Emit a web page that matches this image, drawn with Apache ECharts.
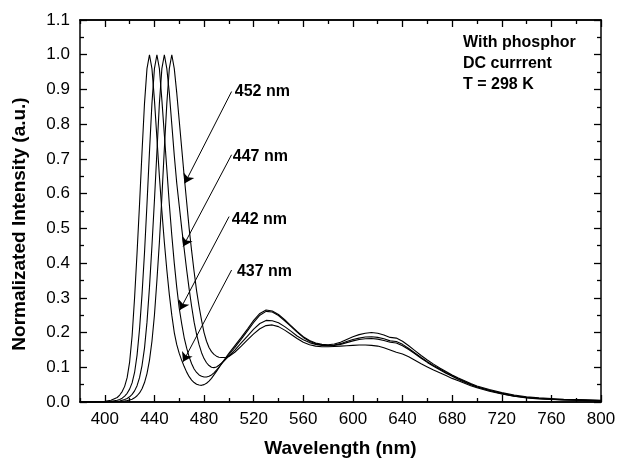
<!DOCTYPE html>
<html>
<head>
<meta charset="utf-8">
<script src="https://cdn.jsdelivr.net/npm/echarts@6/dist/echarts.min.js"></script>
<style>
  html, body { margin: 0; padding: 0; background: #fff; }
  #main { width: 627px; height: 465px; }
</style>
</head>
<body>
<div id="main"></div>
<script>
// wavelength grid (nm)
var wavelengths = [
  380, 390, 400, 405, 410,
  412, 414, 416, 418, 420, 422, 424, 426, 428, 430, 432, 434, 436, 438, 440,
  442, 444, 446, 448, 450, 452, 454, 456, 458, 460, 462, 464, 466, 468, 470,
  472, 474, 476, 478, 480, 482, 484, 486, 488, 490, 492, 494, 496, 498, 500,
  505, 510, 515, 520, 525, 530, 535, 540, 545, 550, 555, 560, 565, 570, 575,
  580, 585, 590, 595, 600, 605, 610, 615, 620, 625, 630, 635, 640, 645, 650,
  655, 660, 665, 670, 675, 680, 685, 690, 695, 700,
  710, 720, 730, 740, 750, 760, 770, 780, 790, 800
];

// normalized intensity, one array per LED
var spec437 = [
  0, 0, 0.002, 0.005, 0.013,
  0.02, 0.03, 0.045, 0.07, 0.115, 0.19, 0.30, 0.43, 0.57, 0.72, 0.86, 0.96, 1.0, 0.96, 0.87,
  0.76, 0.65, 0.55, 0.46, 0.38, 0.31, 0.25, 0.20, 0.165, 0.14, 0.12, 0.102, 0.086, 0.073, 0.063,
  0.056, 0.051, 0.049, 0.048, 0.05, 0.054, 0.06, 0.068, 0.078, 0.088, 0.099, 0.11, 0.12, 0.13, 0.14,
  0.163, 0.186, 0.21, 0.235, 0.255, 0.265, 0.262, 0.252, 0.237, 0.22, 0.203, 0.188, 0.177, 0.17, 0.166,
  0.165, 0.167, 0.172, 0.18, 0.188, 0.194, 0.198, 0.2, 0.198, 0.193, 0.186, 0.184, 0.175, 0.162, 0.148,
  0.134, 0.121, 0.109, 0.098, 0.088, 0.078, 0.069, 0.061, 0.053, 0.046,
  0.036, 0.027, 0.02, 0.015, 0.012, 0.01, 0.008, 0.007, 0.006, 0.005
];
var spec442 = [
  0, 0, 0.001, 0.002, 0.005,
  0.007, 0.011, 0.017, 0.025, 0.037, 0.055, 0.085, 0.135, 0.21, 0.31, 0.43, 0.57, 0.72, 0.86, 0.96,
  1.0, 0.96, 0.87, 0.77, 0.67, 0.57, 0.48, 0.40, 0.33, 0.27, 0.225, 0.185, 0.155, 0.13, 0.11,
  0.095, 0.085, 0.078, 0.074, 0.072, 0.072, 0.074, 0.078, 0.084, 0.092, 0.1, 0.109, 0.118, 0.127, 0.136,
  0.158, 0.181, 0.205, 0.229, 0.25, 0.261, 0.259, 0.249, 0.234, 0.218, 0.201, 0.186, 0.175, 0.168, 0.164,
  0.163, 0.164, 0.168, 0.174, 0.18, 0.184, 0.187, 0.188, 0.186, 0.182, 0.176, 0.174, 0.166, 0.154, 0.141,
  0.128, 0.116, 0.105, 0.095, 0.085, 0.076, 0.067, 0.059, 0.051, 0.044,
  0.034, 0.025, 0.018, 0.013, 0.01, 0.008, 0.007, 0.006, 0.005, 0.004
];
var spec447 = [
  0, 0, 0, 0.001, 0.002,
  0.003, 0.005, 0.007, 0.01, 0.015, 0.022, 0.032, 0.047, 0.07, 0.105, 0.155, 0.23, 0.33, 0.45, 0.58,
  0.72, 0.86, 0.96, 1.0, 0.96, 0.89, 0.80, 0.71, 0.63, 0.565, 0.50, 0.44, 0.38, 0.325, 0.275,
  0.23, 0.195, 0.165, 0.142, 0.125, 0.113, 0.105, 0.1, 0.099, 0.101, 0.106, 0.112, 0.118, 0.125, 0.132,
  0.15, 0.17, 0.19, 0.21, 0.226, 0.235, 0.234, 0.228, 0.217, 0.204, 0.19, 0.179, 0.171, 0.166, 0.163,
  0.162, 0.163, 0.166, 0.171, 0.176, 0.18, 0.182, 0.183, 0.181, 0.177, 0.172, 0.17, 0.162, 0.151, 0.139,
  0.126, 0.114, 0.103, 0.093, 0.083, 0.074, 0.065, 0.057, 0.05, 0.043,
  0.033, 0.024, 0.017, 0.013, 0.01, 0.008, 0.006, 0.005, 0.004, 0.004
];
var spec452 = [
  0, 0, 0, 0.001, 0.001,
  0.001, 0.002, 0.003, 0.004, 0.006, 0.008, 0.012, 0.018, 0.026, 0.038, 0.056, 0.082, 0.12, 0.175, 0.25,
  0.35, 0.46, 0.59, 0.73, 0.86, 0.96, 1.0, 0.96, 0.89, 0.81, 0.73, 0.65, 0.575, 0.50, 0.435,
  0.375, 0.32, 0.275, 0.235, 0.20, 0.175, 0.157, 0.145, 0.137, 0.132, 0.129, 0.128, 0.128, 0.129, 0.131,
  0.144, 0.161, 0.179, 0.196, 0.211, 0.22, 0.222, 0.217, 0.207, 0.195, 0.183, 0.172, 0.165, 0.161, 0.159,
  0.159, 0.16, 0.161, 0.162, 0.163, 0.164, 0.164, 0.163, 0.161, 0.156, 0.15, 0.143, 0.138, 0.13, 0.12,
  0.11, 0.101, 0.092, 0.084, 0.076, 0.068, 0.061, 0.054, 0.047, 0.041,
  0.031, 0.023, 0.017, 0.012, 0.009, 0.007, 0.006, 0.005, 0.004, 0.003
];

var seriesNames = ['437 nm', '442 nm', '447 nm', '452 nm'];
var seriesValues = [spec437, spec442, spec447, spec452];

// tick positions
var xMajorTicks = [400, 440, 480, 520, 560, 600, 640, 680, 720, 760, 800];
var xMinorTicks = [380, 420, 460, 500, 540, 580, 620, 660, 700, 740, 780];

// arrow annotations: label anchor, arrow tail, arrow head (data coords)
var labelPos = [[506.5, 0.375], [502.4, 0.524], [503.2, 0.706], [504.8, 0.893]];
var arrowFrom = [[502.2, 0.38], [500.2, 0.534], [502.2, 0.712], [502.2, 0.894]];
var arrowTo = [[463.1, 0.116], [460.5, 0.265], [463.1, 0.448], [464.5, 0.63]];

var font = '"Liberation Sans", Arial, sans-serif';

function pairs(vals) {
  var out = [];
  for (var i = 0; i < wavelengths.length; i++) out.push([wavelengths[i], vals[i]]);
  return out;
}

var chart = echarts.init(document.getElementById('main'));

var series = [];
for (var i = 0; i < seriesValues.length; i++) {
  series.push({
    name: seriesNames[i],
    type: 'line',
    showSymbol: false,
    symbol: 'none',
    smooth: false,
    lineStyle: { color: '#000', width: 1.1 },
    data: pairs(seriesValues[i])
  });
}

var lines = [], texts = [];
for (var k = 0; k < seriesNames.length; k++) {
  lines.push([{ coord: arrowFrom[k] }, { coord: arrowTo[k] }]);
  texts.push({ name: seriesNames[k], coord: labelPos[k] });
}
series[0].markLine = {
  silent: true,
  animation: false,
  symbol: ['none', 'arrow'],
  symbolSize: 9,
  label: { show: false },
  lineStyle: { color: '#000', width: 1, type: 'solid' },
  data: lines
};
series[0].markPoint = {
  silent: true,
  animation: false,
  symbol: 'circle',
  symbolSize: 0,
  label: {
    show: true, position: 'right', distance: 0, formatter: '{b}',
    color: '#000', fontSize: 16, fontWeight: 'bold', fontFamily: font
  },
  data: texts
};

function xAx(pos, ticks, len, labels) {
  return {
    type: 'value', min: 380, max: 800, interval: 20, position: pos,
    axisLine: { show: true, onZero: false, lineStyle: { color: '#000', width: 1.5 } },
    axisTick: { show: true, inside: true, length: len, customValues: ticks,
      lineStyle: { color: '#000', width: 1.3 } },
    axisLabel: { show: labels, customValues: ticks, color: '#000', fontSize: 17,
      fontFamily: font, margin: 9 },
    splitLine: { show: false }
  };
}

var xAxes = [
  xAx('bottom', xMajorTicks, 7, true),
  xAx('bottom', xMinorTicks, 4, false),
  xAx('top', xMajorTicks, 7, false),
  xAx('top', xMinorTicks, 4, false)
];
xAxes[0].name = 'Wavelength (nm)';
xAxes[0].nameLocation = 'middle';
xAxes[0].nameGap = 37;
xAxes[0].nameTextStyle = { color: '#000', fontSize: 19, fontWeight: 'bold', fontFamily: font };

function yAx(pos, labels) {
  return {
    type: 'value', min: 0, max: 1.1, interval: 0.1, position: pos,
    axisLine: { show: true, onZero: false, lineStyle: { color: '#000', width: 1.5 } },
    axisTick: { show: true, inside: true, length: 7, lineStyle: { color: '#000', width: 1.3 } },
    minorTick: { show: true, splitNumber: 2, length: 4, lineStyle: { color: '#000', width: 1.3 } },
    axisLabel: { show: labels, color: '#000', fontSize: 17, fontFamily: font, margin: 10,
      formatter: function (v) { return v.toFixed(1); } },
    splitLine: { show: false }
  };
}

var option = {
  backgroundColor: '#fff',
  animation: false,
  textStyle: { fontFamily: font },
  grid: { left: 80, right: 26, top: 20, bottom: 63, containLabel: false },
  xAxis: xAxes,
  yAxis: [yAx('left', true), yAx('right', false)],
  graphic: [
    {
      type: 'text', x: 20, y: 224, rotation: Math.PI / 2,
      style: { text: 'Normalizated Intensity (a.u.)', fill: '#000', fontSize: 19,
        fontWeight: 'bold', fontFamily: font, align: 'center', verticalAlign: 'middle' }
    },
    {
      type: 'text', x: 463, y: 32,
      style: { text: 'With phosphor\nDC currrent\nT = 298 K', fill: '#000', fontSize: 16,
        fontWeight: 'bold', fontFamily: font, lineHeight: 21, align: 'left', verticalAlign: 'top' }
    }
  ],
  series: series
};

chart.setOption(option);
</script>
</body>
</html>
